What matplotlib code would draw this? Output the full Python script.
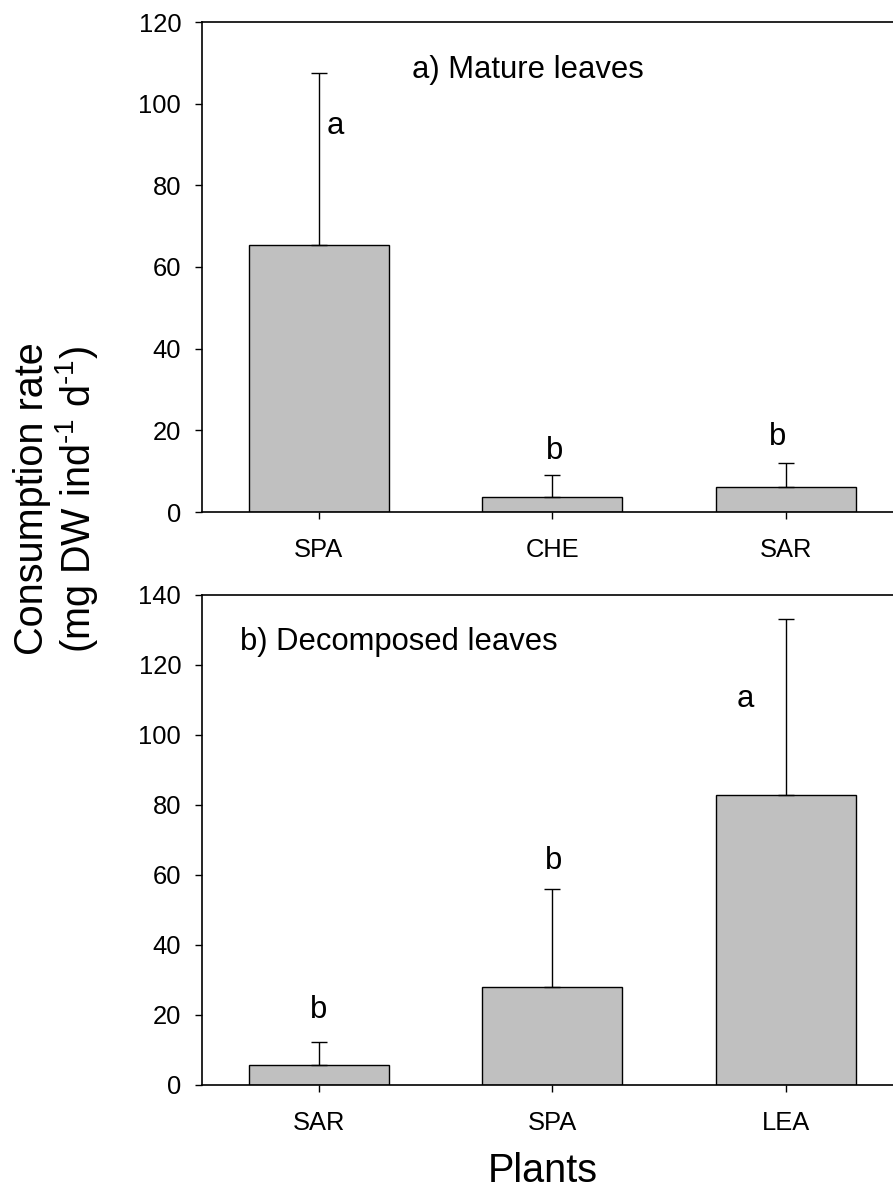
import matplotlib
matplotlib.use("Agg")
import matplotlib.pyplot as plt
import numpy as np

plt.rcParams['font.family'] = ['Liberation Sans', 'DejaVu Sans']
plt.rcParams['mathtext.fontset'] = 'custom'
plt.rcParams['mathtext.rm'] = 'Liberation Sans'
plt.rcParams['mathtext.it'] = 'Liberation Sans'
plt.rcParams['mathtext.default'] = 'regular'

# ---- data ----
mature_plants = ["SPA", "CHE", "SAR"]
mature_mean = [65.3, 3.6, 6.1]
mature_err = [42.2, 5.5, 5.8]
mature_letters = ["a", "b", "b"]

decomp_plants = ["SAR", "SPA", "LEA"]
decomp_mean = [5.8, 28.0, 82.9]
decomp_err = [6.4, 28.0, 50.2]
decomp_letters = ["b", "b", "a"]

W, H = 893, 1192
fig = plt.figure(figsize=(W / 100, H / 100), dpi=100)

left = 202 / W
width = 700.7 / W
ax1 = fig.add_axes([left, 1 - 512 / H, width, 490 / H])
ax2 = fig.add_axes([left, 1 - 1085 / H, width, 490 / H])

TICK_FS = 18.4
ANN_FS = 22.3
LAB_FS = 28.5


def draw(ax, cats, mean, err, ylim, step):
    x = np.arange(len(cats))
    ax.bar(x, mean, width=0.6, color='#c0c0c0', edgecolor='black', linewidth=1.0, zorder=2)
    ax.errorbar(x, mean, yerr=[np.zeros(len(mean)), err], fmt='none', ecolor='black',
                elinewidth=1.0, capsize=5.5, capthick=1.0, zorder=3)
    ax.set_xlim(-0.5, 2.5)
    ax.set_ylim(*ylim)
    ax.set_yticks(np.arange(ylim[0], ylim[1] + 1, step))
    ax.set_xticks(x)
    ax.set_xticklabels(cats)
    ax.spines['right'].set_visible(False)
    for s in ['left', 'bottom', 'top']:
        ax.spines[s].set_linewidth(1.2)
    ax.tick_params(axis='both', direction='out', length=5, width=1.0, labelsize=TICK_FS,
                   top=False, right=False)
    ax.tick_params(axis='y', pad=10)
    ax.tick_params(axis='x', pad=14)
    return x


x1 = draw(ax1, mature_plants, mature_mean, mature_err, (0, 120), 20)
x2 = draw(ax2, decomp_plants, decomp_mean, decomp_err, (0, 140), 20)

# letters
top1 = np.array(mature_mean) + np.array(mature_err)
ax1.text(x1[0] + 0.07, 92.6, mature_letters[0], fontsize=ANN_FS, ha='center', va='baseline')
ax1.text(x1[1] + 0.008, top1[1] + 3.8, mature_letters[1], fontsize=ANN_FS, ha='center', va='baseline')
ax1.text(x1[2] - 0.036, top1[2] + 4.5, mature_letters[2], fontsize=ANN_FS, ha='center', va='baseline')

top2 = np.array(decomp_mean) + np.array(decomp_err)
ax2.text(x2[0], top2[0] + 7.0, decomp_letters[0], fontsize=ANN_FS, ha='center', va='baseline')
ax2.text(x2[1] + 0.005, top2[1] + 5.7, decomp_letters[1], fontsize=ANN_FS, ha='center', va='baseline')
ax2.text(x2[2] - 0.175, 108.1, decomp_letters[2], fontsize=ANN_FS, ha='center', va='baseline')

ax1.text(0.398, 106.2, "a) Mature leaves", fontsize=ANN_FS, ha='left', va='baseline')
ax2.text(-0.337, 124.3, "b) Decomposed leaves", fontsize=ANN_FS, ha='left', va='baseline')

# axis labels
fig.text(43 / W, 1 - 499 / H, "Consumption rate", fontsize=LAB_FS, rotation=90,
         rotation_mode='anchor', ha='center', va='baseline')
fig.text(90 / W, 1 - 499 / H, r"(mg DW ind$^{\text{-1}}$ d$^{\text{-1}}$)", fontsize=LAB_FS,
         rotation=90, rotation_mode='anchor', ha='center', va='baseline')
fig.text(543 / W, 1 - 1182 / H, "Plants", fontsize=LAB_FS, ha='center', va='baseline')

fig.savefig("out.png", dpi=100)
